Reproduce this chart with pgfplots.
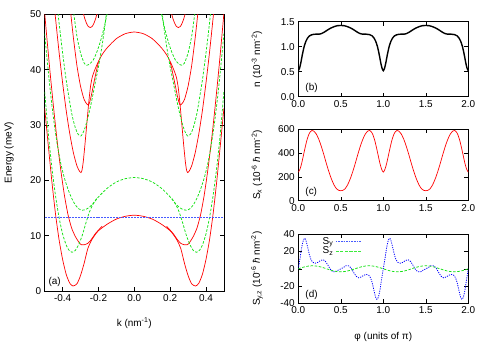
\documentclass[border=0pt]{standalone}
\usepackage{fontspec}
\setmainfont{Liberation Sans}
\usepackage{pgfplots}
\pgfplotsset{compat=1.18}

\definecolor{gpred}{RGB}{255,0,0}
\definecolor{gpgreen}{RGB}{20,225,20}
\definecolor{gpblue}{RGB}{0,0,255}
\definecolor{gplblue}{RGB}{70,90,255}
\definecolor{gplgreen}{RGB}{60,235,60}

\pgfplotsset{
  gp/.style={
    scale only axis,
    enlargelimits=false,
    axis line style={line width=0.6pt},
    tick style={black, line width=0.5pt},
    major tick length=4bp,
    tick label style={font=\fontsize{10}{12}\selectfont},
    label style={font=\fontsize{10}{12}\selectfont},
    /pgf/number format/assume math mode=true,
  },
  onedec/.style={/pgf/number format/.cd, fixed, fixed zerofill, precision=1},
  rc/.style={gpred, line width=0.7pt, smooth, tension=0.4, no marks},
  gc/.style={gpgreen, line width=0.75pt, dash pattern=on 2.6pt off 1.6pt, smooth, tension=0.4, no marks},
  bc/.style={gpblue, line width=0.8pt, dash pattern=on 1.1pt off 1.2pt, smooth, tension=0.4, no marks},
  fermi/.style={color=gplblue, line width=0.9pt, dash pattern=on 2pt off 1pt, no marks},
  rightpanel/.style={gp, width=170bp, xmin=0, xmax=2,
    xtick={0,0.5,1,1.5,2}, xticklabel style={onedec},
    ylabel style={at={(axis description cs:-0.243,0.5)}, anchor=center}},
}

\begin{document}
\begin{tikzpicture}[font=\fontsize{10}{12}\selectfont]
\path[use as bounding box] (0,0) rectangle (491bp,343bp);

% (a) band structure
\begin{axis}[gp,
  at={(44.7bp,52bp)}, anchor=south west,
  width=179.2bp, height=276.7bp,
  xmin=-0.5, xmax=0.5, ymin=0, ymax=50,
  xtick={-0.4,-0.2,0,0.2,0.4}, xticklabel style={onedec},
  ytick={0,10,20,30,40,50},
  xlabel={k (nm\textsuperscript{-1})},
  ylabel={Energy (meV)},
  xlabel style={at={(axis description cs:0.5,-0.116)}, anchor=center},
  ylabel style={at={(axis description cs:-0.199,0.5)}, anchor=center},
]
% lowest red band (hump + double well)
\addplot[rc] coordinates {(-0.50,33.0) (-0.48,26.3) (-0.46,19.8) (-0.44,14.0) (-0.42,9.3) (-0.40,5.7) (-0.38,3.0) (-0.36,1.4) (-0.342,0.9) (-0.32,1.3) (-0.30,2.8) (-0.28,5.0) (-0.26,7.6) (-0.24,9.1) (-0.22,10.1) (-0.20,10.9) (-0.15,12.1) (-0.10,13.0) (-0.05,13.5) (0,13.7) (0.05,13.5) (0.10,13.0) (0.15,12.1) (0.20,10.9) (0.22,10.1) (0.24,9.1) (0.26,7.6) (0.28,5.0) (0.30,2.8) (0.32,1.3) (0.342,0.9) (0.36,1.4) (0.38,3.0) (0.40,5.7) (0.42,9.3) (0.44,14.0) (0.46,19.8) (0.48,26.3) (0.50,33.0)};
% second red band
\addplot[rc] coordinates {(-0.18,11.7) (-0.20,11.0) (-0.22,10.25) (-0.24,9.3) (-0.26,8.6) (-0.28,8.35) (-0.295,8.35) (-0.305,8.6) (-0.315,9.1) (-0.33,9.9) (-0.35,11.4) (-0.37,13.8) (-0.39,17.3) (-0.41,21.8) (-0.43,27.0) (-0.45,33.0) (-0.47,39.5) (-0.49,46.5) (-0.50,50.2)};
\addplot[rc] coordinates {(0.18,11.7) (0.20,11.0) (0.22,10.25) (0.24,9.3) (0.26,8.6) (0.28,8.35) (0.295,8.35) (0.305,8.6) (0.315,9.1) (0.33,9.9) (0.35,11.4) (0.37,13.8) (0.39,17.3) (0.41,21.8) (0.43,27.0) (0.45,33.0) (0.47,39.5) (0.49,46.5) (0.50,50.2)};
% upper hump running down into the 21 meV minima
\addplot[rc] coordinates {(-0.445,51.0) (-0.44,49.4) (-0.42,43.2) (-0.40,37.6) (-0.38,32.6) (-0.36,28.4) (-0.34,25.0) (-0.32,22.6) (-0.305,21.6) (-0.298,21.4) (-0.292,21.8) (-0.285,23.3) (-0.275,26.6) (-0.265,30.2) (-0.255,33.8) (-0.245,36.8) (-0.235,38.6) (-0.22,40.0) (-0.20,41.5) (-0.18,42.7) (-0.15,44.0) (-0.10,45.6) (-0.05,46.5) (0,46.8) (0.05,46.5) (0.10,45.6) (0.15,44.0) (0.18,42.7) (0.20,41.5) (0.22,40.0) (0.235,38.6) (0.245,36.8) (0.255,33.8) (0.265,30.2) (0.275,26.6) (0.285,23.3) (0.292,21.8) (0.298,21.4) (0.305,21.6) (0.32,22.6) (0.34,25.0) (0.36,28.4) (0.38,32.6) (0.40,37.6) (0.42,43.2) (0.44,49.4) (0.445,51.0)};
% red U at 33.6
\addplot[rc] coordinates {(-0.20,41.4) (-0.21,40.0) (-0.22,38.5) (-0.23,36.9) (-0.24,35.3) (-0.25,34.0) (-0.257,33.6) (-0.265,33.8) (-0.28,34.6) (-0.30,37.0) (-0.32,40.7) (-0.34,45.8) (-0.355,50.3)};
\addplot[rc] coordinates {(0.20,41.4) (0.21,40.0) (0.22,38.5) (0.23,36.9) (0.24,35.3) (0.25,34.0) (0.257,33.6) (0.265,33.8) (0.28,34.6) (0.30,37.0) (0.32,40.7) (0.34,45.8) (0.355,50.3)};
% red U at 47.6
\addplot[rc] coordinates {(-0.205,50.5) (-0.215,49.3) (-0.225,48.4) (-0.235,47.8) (-0.246,47.6) (-0.257,47.8) (-0.267,48.4) (-0.277,49.3) (-0.287,50.5)};
\addplot[rc] coordinates {(0.205,50.5) (0.215,49.3) (0.225,48.4) (0.235,47.8) (0.246,47.6) (0.257,47.8) (0.267,48.4) (0.277,49.3) (0.287,50.5)};

% green hump + lowest green band
\addplot[gc] coordinates {(-0.50,36.0) (-0.48,28.5) (-0.46,22.3) (-0.44,17.3) (-0.42,13.3) (-0.40,10.3) (-0.38,8.3) (-0.365,7.4) (-0.348,7.0) (-0.33,7.3) (-0.31,8.4) (-0.29,10.1) (-0.27,12.3) (-0.25,14.3) (-0.23,15.7) (-0.20,17.0) (-0.15,18.6) (-0.10,19.7) (-0.05,20.3) (0,20.5) (0.05,20.3) (0.10,19.7) (0.15,18.6) (0.20,17.0) (0.23,15.7) (0.25,14.3) (0.27,12.3) (0.29,10.1) (0.31,8.4) (0.33,7.3) (0.348,7.0) (0.365,7.4) (0.38,8.3) (0.40,10.3) (0.42,13.3) (0.44,17.3) (0.46,22.3) (0.48,28.5) (0.50,36.0)};
% green U at 14.6
\addplot[gc] coordinates {(-0.21,16.7) (-0.23,15.8) (-0.25,15.15) (-0.27,14.75) (-0.29,14.6) (-0.31,14.85) (-0.33,15.6) (-0.35,16.8) (-0.37,18.4) (-0.39,20.4) (-0.41,23.0) (-0.43,26.5) (-0.45,31.0) (-0.47,36.5) (-0.49,43.0) (-0.50,46.5)};
\addplot[gc] coordinates {(0.21,16.7) (0.23,15.8) (0.25,15.15) (0.27,14.75) (0.29,14.6) (0.31,14.85) (0.33,15.6) (0.35,16.8) (0.37,18.4) (0.39,20.4) (0.41,23.0) (0.43,26.5) (0.45,31.0) (0.47,36.5) (0.49,43.0) (0.50,46.5)};
% green U at 28.0
\addplot[gc] coordinates {(-0.155,50.5) (-0.16,49.0) (-0.17,46.5) (-0.185,43.3) (-0.20,40.5) (-0.215,38.1) (-0.24,34.0) (-0.26,31.2) (-0.28,29.0) (-0.298,28.0) (-0.315,28.4) (-0.33,29.6) (-0.35,32.2) (-0.38,38.1) (-0.40,43.0) (-0.42,48.5) (-0.428,51.0)};
\addplot[gc] coordinates {(0.155,50.5) (0.16,49.0) (0.17,46.5) (0.185,43.3) (0.20,40.5) (0.215,38.1) (0.24,34.0) (0.26,31.2) (0.28,29.0) (0.298,28.0) (0.315,28.4) (0.33,29.6) (0.35,32.2) (0.38,38.1) (0.40,43.0) (0.42,48.5) (0.428,51.0)};
% green U at 40.8
\addplot[gc] coordinates {(-0.147,50.8) (-0.17,47.4) (-0.19,45.0) (-0.21,43.1) (-0.23,41.7) (-0.25,41.0) (-0.266,40.8) (-0.28,41.2) (-0.30,43.0) (-0.32,46.0) (-0.335,49.5) (-0.34,50.8)};
\addplot[gc] coordinates {(0.147,50.8) (0.17,47.4) (0.19,45.0) (0.21,43.1) (0.23,41.7) (0.25,41.0) (0.266,40.8) (0.28,41.2) (0.30,43.0) (0.32,46.0) (0.335,49.5) (0.34,50.8)};

% Fermi level
\addplot[fermi] coordinates {(-0.5,13.3) (-0.25,13.3) (0,13.3) (0.25,13.3) (0.5,13.3)};
\node[anchor=south west, inner sep=1pt] at (rel axis cs:0.015,0.012) {(a)};
\end{axis}

% (b) density
\begin{axis}[rightpanel,
  at={(298.3bp,246.3bp)}, anchor=south west, height=75bp,
  ymin=0, ymax=1.5, ytick={0,0.5,1,1.5}, yticklabel style={onedec},
  ylabel={n (10\textsuperscript{-3} nm\textsuperscript{-2})},
]
\addplot[black, line width=1.4pt, smooth, tension=0.4, no marks] coordinates {
(0,0.52) (0.015,0.57) (0.03,0.68) (0.05,0.86) (0.07,1.01) (0.09,1.11) (0.11,1.175) (0.13,1.215) (0.16,1.24) (0.20,1.25) (0.24,1.25) (0.27,1.26) (0.30,1.285) (0.34,1.33) (0.38,1.37) (0.42,1.40) (0.46,1.42) (0.50,1.425)
(0.54,1.42) (0.58,1.40) (0.62,1.37) (0.66,1.33) (0.70,1.285) (0.73,1.26) (0.76,1.25) (0.80,1.25) (0.84,1.24) (0.87,1.215) (0.89,1.175) (0.91,1.11) (0.93,1.01) (0.95,0.86) (0.97,0.68) (0.985,0.57) (1.00,0.52)
(1.015,0.57) (1.03,0.68) (1.05,0.86) (1.07,1.01) (1.09,1.11) (1.11,1.175) (1.13,1.215) (1.16,1.24) (1.20,1.25) (1.24,1.25) (1.27,1.26) (1.30,1.285) (1.34,1.33) (1.38,1.37) (1.42,1.40) (1.46,1.42) (1.50,1.425)
(1.54,1.42) (1.58,1.40) (1.62,1.37) (1.66,1.33) (1.70,1.285) (1.73,1.26) (1.76,1.25) (1.80,1.25) (1.84,1.24) (1.87,1.215) (1.89,1.175) (1.91,1.11) (1.93,1.01) (1.95,0.86) (1.97,0.68) (1.985,0.57) (2.00,0.52)};
\node[anchor=south west, inner sep=1pt] at (rel axis cs:0.035,0.04) {(b)};
\end{axis}

% (c) S_x
\begin{axis}[rightpanel,
  at={(298.3bp,142.3bp)}, anchor=south west, height=71.4bp,
  ymin=0, ymax=600, ytick={0,200,400,600},
  ylabel={S\textsubscript{x} (10\textsuperscript{-6} \textit{ħ} nm\textsuperscript{-2})},
]
\addplot[rc] coordinates {
(0,240) (0.02,265) (0.04,315) (0.06,380) (0.08,445) (0.10,505) (0.12,550) (0.14,578) (0.16,590) (0.18,586) (0.21,562) (0.24,518) (0.27,458) (0.30,388) (0.33,313) (0.36,243) (0.39,182) (0.42,133) (0.45,100) (0.48,86) (0.50,84)
(0.52,86) (0.55,100) (0.58,133) (0.61,182) (0.64,243) (0.67,313) (0.70,388) (0.73,458) (0.76,518) (0.79,562) (0.82,586) (0.84,590) (0.86,578) (0.88,550) (0.90,505) (0.92,445) (0.94,380) (0.96,315) (0.98,265) (1.00,240)
(1.02,265) (1.04,315) (1.06,380) (1.08,445) (1.10,505) (1.12,550) (1.14,578) (1.16,590) (1.18,586) (1.21,562) (1.24,518) (1.27,458) (1.30,388) (1.33,313) (1.36,243) (1.39,182) (1.42,133) (1.45,100) (1.48,86) (1.50,84)
(1.52,86) (1.55,100) (1.58,133) (1.61,182) (1.64,243) (1.67,313) (1.70,388) (1.73,458) (1.76,518) (1.79,562) (1.82,586) (1.84,590) (1.86,578) (1.88,550) (1.90,505) (1.92,445) (1.94,380) (1.96,315) (1.98,265) (2.00,240)};
\node[anchor=south west, inner sep=1pt] at (rel axis cs:0.035,0.04) {(c)};
\end{axis}

% (d) S_y, S_z
\begin{axis}[rightpanel,
  at={(298.3bp,39.7bp)}, anchor=south west, height=69bp,
  ymin=-40, ymax=40, ytick={-40,-20,0,20,40},
  ylabel={S\textsubscript{y,z} (10\textsuperscript{-6} \textit{ħ} nm\textsuperscript{-2})},
  xlabel={φ (units of π)},
  xlabel style={at={(axis description cs:0.5,-0.484)}, anchor=center},
  legend style={draw=none, fill=none, at={(rel axis cs:0.125,1.0)}, anchor=north west,
    font=\fontsize{10}{12}\selectfont, row sep=-3pt, inner sep=1pt},
  legend cell align=right, legend plot pos=right,
  legend image code/.code={\draw[#1] (0bp,0bp) -- (8bp,0bp) -- (16bp,0bp) -- (25bp,0bp);},
]
\addplot[bc, forget plot] coordinates {
(0,0) (0.02,12) (0.04,25) (0.06,33.5) (0.075,35.5) (0.09,33) (0.11,25) (0.13,16.5) (0.15,10.5) (0.17,7.5) (0.20,6.5) (0.23,7.5) (0.26,9.5) (0.29,10.5) (0.32,8.5) (0.35,4) (0.38,-1) (0.41,-3.5) (0.44,-3.5) (0.47,-1.5) (0.50,0)
(0.53,1.5) (0.56,3.5) (0.59,3.5) (0.62,1) (0.65,-4) (0.68,-8.5) (0.71,-10.5) (0.74,-9.5) (0.77,-7.5) (0.80,-6.5) (0.83,-7.5) (0.85,-10.5) (0.87,-16.5) (0.89,-25) (0.91,-33) (0.925,-35.5) (0.94,-33.5) (0.96,-25) (0.98,-12) (1.00,0)
(1.02,12) (1.04,25) (1.06,33.5) (1.075,35.5) (1.09,33) (1.11,25) (1.13,16.5) (1.15,10.5) (1.17,7.5) (1.20,6.5) (1.23,7.5) (1.26,9.5) (1.29,10.5) (1.32,8.5) (1.35,4) (1.38,-1) (1.41,-3.5) (1.44,-3.5) (1.47,-1.5) (1.50,0)
(1.53,1.5) (1.56,3.5) (1.59,3.5) (1.62,1) (1.65,-4) (1.68,-8.5) (1.71,-10.5) (1.74,-9.5) (1.77,-7.5) (1.80,-6.5) (1.83,-7.5) (1.85,-10.5) (1.87,-16.5) (1.89,-25) (1.91,-33) (1.925,-35.5) (1.94,-33.5) (1.96,-25) (1.98,-12) (2.00,0)};
\addplot[gc, forget plot] coordinates {
(0,0) (0.0417,1.34) (0.0833,2.47) (0.125,3.23) (0.1667,3.5) (0.2083,3.23) (0.25,2.47) (0.2917,1.34) (0.3333,0) (0.375,-1.34) (0.4167,-2.47) (0.4583,-3.23) (0.5,-3.5) (0.5417,-3.23) (0.5833,-2.47) (0.625,-1.34) (0.6667,0) (0.7083,1.34) (0.75,2.47) (0.7917,3.23) (0.8333,3.5) (0.875,3.23) (0.9167,2.47) (0.9583,1.34) (1,0)
(1.0417,-1.34) (1.0833,-2.47) (1.125,-3.23) (1.1667,-3.5) (1.2083,-3.23) (1.25,-2.47) (1.2917,-1.34) (1.3333,0) (1.375,1.34) (1.4167,2.47) (1.4583,3.23) (1.5,3.5) (1.5417,3.23) (1.5833,2.47) (1.625,1.34) (1.6667,0) (1.7083,-1.34) (1.75,-2.47) (1.7917,-3.23) (1.8333,-3.5) (1.875,-3.23) (1.9167,-2.47) (1.9583,-1.34) (2,0)};
\addlegendimage{color=gplblue, line width=0.9pt, dash pattern=on 1.6pt off 1pt}
\addlegendentry{S\textsubscript{y}}
\addlegendimage{color=gplgreen, line width=0.9pt, dash pattern=on 3pt off 1.5pt}
\addlegendentry{S\textsubscript{z}}
\node[anchor=south west, inner sep=1pt] at (rel axis cs:0.035,0.04) {(d)};
\end{axis}
\end{tikzpicture}
\end{document}
